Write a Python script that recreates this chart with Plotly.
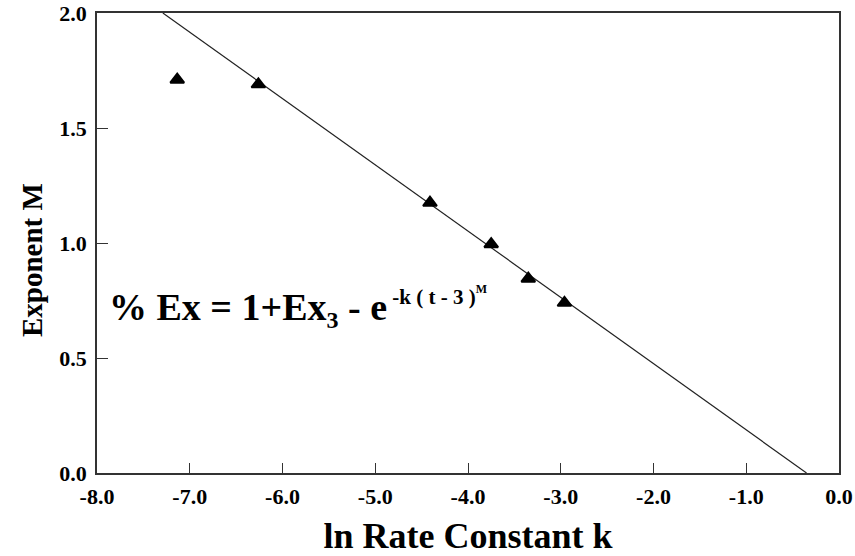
import plotly.graph_objects as go

# ---- data ----
ln_k = [-7.135, -6.26, -4.41, -3.75, -3.35, -2.96]
exponent_m = [1.71, 1.69, 1.175, 0.995, 0.845, 0.74]

fit_x = [-7.29, -0.35]
fit_y = [2.0, 0.0]

x_tick_vals = [-8, -7, -6, -5, -4, -3, -2, -1, 0]
x_tick_text = ["-8.0", "-7.0", "-6.0", "-5.0", "-4.0", "-3.0", "-2.0", "-1.0", "0.0"]
y_tick_vals = [0.0, 0.5, 1.0, 1.5, 2.0]
y_tick_text = ["0.0", "0.5", "1.0", "1.5", "2.0"]

FONT = "Liberation Serif"

fig = go.Figure()
fig.add_trace(go.Scatter(
    x=fit_x, y=fit_y, mode="lines",
    line=dict(color="#222222", width=1.2),
    showlegend=False, hoverinfo="skip",
))
fig.add_trace(go.Scatter(
    x=ln_k, y=exponent_m, mode="markers",
    marker=dict(symbol="triangle-up", size=12, color="black",
                line=dict(color="black", width=2)),
    showlegend=False,
))

formula = (
    "<b>% Ex = 1+Ex<sub><span style='font-size:24px'>3</span></sub> - e"
    "<sup><span style='font-size:21px'> -k ( t - 3 )</span>"
    "<sup><span style='font-size:12px'>M</span></sup></sup></b>"
)
fig.add_annotation(
    x=-7.895, y=0.72, xref="x", yref="y",
    xanchor="left", yanchor="middle", showarrow=False,
    text=formula,
    font=dict(family=FONT, size=38, color="black"),
)

# y-axis title (placed as annotation to match the reference's off-centre position)
fig.add_annotation(
    x=-0.0876, y=0.463, xref="paper", yref="paper",
    xanchor="center", yanchor="middle", showarrow=False,
    textangle=-90,
    text="<b>Exponent M</b>",
    font=dict(family=FONT, size=29, color="black"),
)

axis_common = dict(
    showgrid=False, zeroline=False, automargin=False,
    showline=True, linecolor="#333333", linewidth=1.5, mirror=True,
    ticks="inside", tickcolor="#333333", tickwidth=1,
    tickfont=dict(family=FONT, size=22, color="black", weight="bold"),
)

fig.update_xaxes(
    range=[-8, 0], tickvals=x_tick_vals, ticktext=x_tick_text,
    ticklen=10, ticklabelstandoff=3,
    title=dict(text="<b>ln Rate Constant k</b>",
               font=dict(family=FONT, size=36, color="black"), standoff=21),
    **axis_common,
)
fig.update_yaxes(
    range=[0, 2], tickvals=y_tick_vals, ticktext=y_tick_text,
    ticklen=11, ticklabelstandoff=4,
    **axis_common,
)

fig.update_layout(
    width=855, height=556,
    margin=dict(l=97, r=16, t=13, b=83),
    paper_bgcolor="white", plot_bgcolor="white",
)

fig.write_html("out.html")
